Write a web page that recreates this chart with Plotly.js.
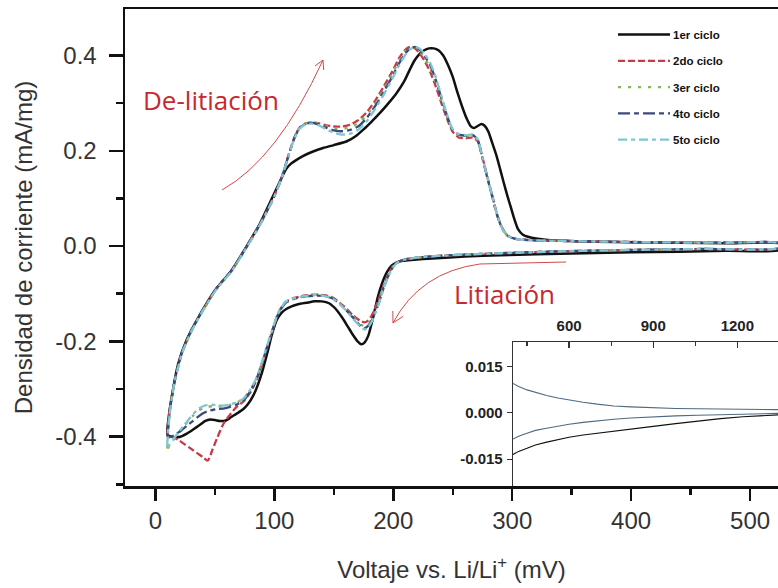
<!DOCTYPE html>
<html><head><meta charset="utf-8">
<script src="https://cdn.plot.ly/plotly-3.0.1.min.js"></script>
<style>html,body{margin:0;padding:0;background:#fff}#chart{width:778px;height:588px}</style>
</head><body><div id="chart"></div>
<script>
// ---------------- DATA ----------------
const cycleNames = ['1er ciclo', '2do ciclo', '3er ciclo', '4to ciclo', '5to ciclo'];

// cycle 1 (black)
const vAnodic1 = [10, 11, 15, 19, 26, 36, 50, 64, 78, 88, 96, 104, 110, 114, 118, 124, 132, 141, 150, 161, 168, 175, 182, 189, 196, 203, 209, 214, 218, 222, 226, 230, 234, 238, 242, 246, 250, 254, 258, 262, 265, 268, 271, 274, 277, 280, 283, 287, 290, 293, 296, 299, 302, 305, 309, 314, 320, 330, 345, 370, 400, 440, 480, 525];
const iAnodic1 = [-0.396, -0.362, -0.298, -0.248, -0.198, -0.150, -0.093, -0.051, 0.005, 0.048, 0.090, 0.132, 0.162, 0.173, 0.180, 0.189, 0.198, 0.206, 0.212, 0.220, 0.230, 0.245, 0.262, 0.280, 0.300, 0.322, 0.345, 0.371, 0.390, 0.403, 0.411, 0.415, 0.415, 0.411, 0.400, 0.380, 0.355, 0.322, 0.292, 0.266, 0.252, 0.248, 0.252, 0.256, 0.252, 0.240, 0.218, 0.188, 0.160, 0.132, 0.105, 0.080, 0.055, 0.035, 0.024, 0.019, 0.016, 0.013, 0.011, 0.009, 0.008, 0.007, 0.006, 0.005];
const vCathodic1 = [525, 480, 440, 400, 360, 320, 290, 260, 240, 225, 215, 208, 203, 199, 195, 191, 187, 183, 179, 176, 173, 170, 166, 162, 157, 152, 146, 140, 134, 127, 120, 114, 110, 106, 102, 98, 94, 90, 86, 82, 78, 74, 70, 66, 62, 58, 54, 50, 46, 42, 38, 34, 30, 26, 21, 16, 12, 10];
const iCathodic1 = [-0.008, -0.010, -0.012, -0.013, -0.015, -0.017, -0.019, -0.022, -0.025, -0.027, -0.029, -0.031, -0.034, -0.040, -0.053, -0.075, -0.107, -0.150, -0.188, -0.202, -0.206, -0.200, -0.186, -0.170, -0.150, -0.133, -0.120, -0.116, -0.116, -0.119, -0.122, -0.127, -0.132, -0.140, -0.155, -0.185, -0.225, -0.262, -0.292, -0.315, -0.331, -0.342, -0.349, -0.355, -0.362, -0.367, -0.367, -0.365, -0.364, -0.367, -0.374, -0.381, -0.388, -0.394, -0.400, -0.401, -0.399, -0.396];

// cycles 2-5 share voltage grids
const vAnodic = [10, 12, 16, 22, 30, 40, 52, 64, 78, 90, 100, 107, 112, 117, 121, 126, 131, 137, 143, 150, 157, 164, 171, 178, 185, 192, 199, 205, 210, 214, 218, 222, 226, 231, 236, 241, 246, 250, 255, 261, 267, 271, 275, 279, 283, 287, 291, 296, 303, 320, 360, 420, 480, 525];
const iAnodic2 = [-0.396, -0.345, -0.285, -0.226, -0.179, -0.134, -0.087, -0.052, 0.004, 0.056, 0.106, 0.151, 0.192, 0.229, 0.248, 0.257, 0.259, 0.258, 0.254, 0.251, 0.251, 0.255, 0.265, 0.282, 0.306, 0.335, 0.366, 0.395, 0.412, 0.418, 0.415, 0.405, 0.390, 0.366, 0.333, 0.296, 0.262, 0.240, 0.228, 0.226, 0.228, 0.220, 0.186, 0.146, 0.108, 0.069, 0.041, 0.022, 0.015, 0.012, 0.010, 0.008, 0.007, 0.006];
const iAnodic3 = [-0.425, -0.350, -0.286, -0.227, -0.180, -0.135, -0.088, -0.053, 0.003, 0.054, 0.104, 0.149, 0.190, 0.227, 0.247, 0.257, 0.260, 0.257, 0.252, 0.247, 0.246, 0.250, 0.259, 0.276, 0.300, 0.329, 0.360, 0.390, 0.409, 0.417, 0.417, 0.410, 0.396, 0.374, 0.342, 0.302, 0.266, 0.242, 0.233, 0.231, 0.232, 0.222, 0.185, 0.145, 0.107, 0.068, 0.040, 0.022, 0.015, 0.012, 0.010, 0.008, 0.007, 0.006];
const iAnodic4 = [-0.400, -0.346, -0.285, -0.225, -0.178, -0.133, -0.086, -0.051, 0.004, 0.055, 0.105, 0.150, 0.191, 0.228, 0.247, 0.256, 0.259, 0.255, 0.249, 0.243, 0.241, 0.244, 0.252, 0.270, 0.295, 0.324, 0.355, 0.384, 0.404, 0.415, 0.418, 0.413, 0.400, 0.380, 0.347, 0.306, 0.268, 0.243, 0.234, 0.232, 0.233, 0.223, 0.184, 0.144, 0.106, 0.067, 0.040, 0.022, 0.015, 0.012, 0.010, 0.008, 0.007, 0.006];
const iAnodic5 = [-0.425, -0.352, -0.287, -0.228, -0.180, -0.135, -0.088, -0.053, 0.003, 0.054, 0.104, 0.149, 0.190, 0.227, 0.246, 0.255, 0.257, 0.254, 0.246, 0.238, 0.234, 0.236, 0.245, 0.263, 0.289, 0.318, 0.350, 0.380, 0.401, 0.413, 0.418, 0.415, 0.404, 0.385, 0.352, 0.310, 0.270, 0.245, 0.235, 0.233, 0.234, 0.224, 0.185, 0.145, 0.107, 0.068, 0.040, 0.022, 0.015, 0.012, 0.010, 0.008, 0.007, 0.006];

const vCathodic = [525, 460, 400, 340, 290, 250, 225, 210, 204, 200, 196, 192, 188, 185, 182, 179, 176, 173, 170, 166, 161, 155, 149, 142, 135, 128, 121, 115, 110, 106, 102, 98, 94, 90, 85, 80, 74, 68, 62, 57, 52, 48, 44, 40, 36, 32, 28, 24, 20, 16, 12, 10];
const iCathodic2 = [-0.004, -0.006, -0.008, -0.011, -0.015, -0.019, -0.023, -0.028, -0.033, -0.041, -0.058, -0.082, -0.110, -0.128, -0.145, -0.156, -0.160, -0.158, -0.153, -0.145, -0.132, -0.119, -0.108, -0.103, -0.102, -0.103, -0.106, -0.110, -0.116, -0.128, -0.149, -0.180, -0.212, -0.245, -0.281, -0.306, -0.326, -0.338, -0.356, -0.374, -0.402, -0.427, -0.450, -0.443, -0.436, -0.429, -0.422, -0.415, -0.408, -0.402, -0.397, -0.396];
const iCathodic3 = [-0.004, -0.006, -0.008, -0.011, -0.015, -0.019, -0.023, -0.028, -0.034, -0.043, -0.061, -0.086, -0.116, -0.135, -0.152, -0.164, -0.168, -0.165, -0.158, -0.148, -0.134, -0.120, -0.109, -0.104, -0.102, -0.103, -0.106, -0.110, -0.116, -0.128, -0.148, -0.178, -0.209, -0.241, -0.277, -0.301, -0.320, -0.329, -0.334, -0.336, -0.336, -0.336, -0.337, -0.340, -0.346, -0.355, -0.366, -0.378, -0.391, -0.404, -0.418, -0.427];
const iCathodic4 = [-0.004, -0.006, -0.008, -0.011, -0.015, -0.019, -0.023, -0.028, -0.034, -0.043, -0.061, -0.087, -0.118, -0.138, -0.155, -0.167, -0.172, -0.169, -0.161, -0.150, -0.136, -0.121, -0.110, -0.105, -0.104, -0.105, -0.108, -0.112, -0.118, -0.130, -0.150, -0.180, -0.211, -0.243, -0.279, -0.304, -0.324, -0.333, -0.338, -0.341, -0.342, -0.344, -0.346, -0.351, -0.358, -0.366, -0.374, -0.382, -0.390, -0.397, -0.401, -0.402];
const iCathodic5 = [-0.004, -0.006, -0.008, -0.011, -0.015, -0.019, -0.023, -0.028, -0.034, -0.043, -0.062, -0.088, -0.120, -0.140, -0.158, -0.170, -0.175, -0.171, -0.163, -0.152, -0.137, -0.122, -0.110, -0.105, -0.103, -0.104, -0.107, -0.111, -0.116, -0.128, -0.148, -0.178, -0.208, -0.240, -0.276, -0.300, -0.320, -0.328, -0.333, -0.335, -0.334, -0.333, -0.333, -0.336, -0.342, -0.352, -0.364, -0.376, -0.389, -0.402, -0.416, -0.425];

// inset (zoom on 400-1345 mV)
const insetV = [400, 420, 450, 480, 520, 560, 600, 650, 700, 760, 820, 900, 980, 1060, 1140, 1220, 1300, 1345];
const insetUpper = [0.0095, 0.0085, 0.0074, 0.0066, 0.0056, 0.0048, 0.0041, 0.0034, 0.0028, 0.0022, 0.0019, 0.0016, 0.0014, 0.0013, 0.0012, 0.0011, 0.0010, 0.0010];
const insetLower1 = [-0.0135, -0.0125, -0.0115, -0.0104, -0.0095, -0.0086, -0.0079, -0.0072, -0.0066, -0.0060, -0.0053, -0.0044, -0.0035, -0.0026, -0.0019, -0.0013, -0.0009, -0.0007];
const insetLower25 = [-0.0085, -0.0076, -0.0066, -0.0057, -0.0050, -0.0043, -0.0037, -0.0031, -0.0026, -0.0021, -0.0017, -0.0013, -0.0010, -0.0008, -0.0006, -0.0004, -0.0003, -0.0002];

// ticks
const xTickVals = [0, 100, 200, 300, 400, 500];
const xTickText = ['0', '100', '200', '300', '400', '500'];
const yTickVals = [0.4, 0.2, 0.0, -0.2, -0.4];
const yTickText = ['0.4', '0.2', '0.0', '-0.2', '-0.4'];
const insetXTickVals = [600, 900, 1200];
const insetYTickVals = [0.015, 0.0, -0.015];
const insetYTickText = ['0.015', '0.000', '-0.015'];

// ---------------- STYLE ----------------
const colors = ['#111111', '#c83a46', '#86b552', '#3d4a7e', '#7fc6d2'];
const dashes = ['solid', '7px,3px', '3px,7px', '12px,4px,5px,4px', '9px,4px,4px,4px'];
const widths = [2.5, 2.3, 2.4, 2.3, 2.3];

// pixel -> paper helpers for decorations
const L = 125, R = 778, T = 9, B = 486;
const pxX = p => (p - L) / (R - L);
const pxY = p => (B - p) / (B - T);
const P = (x, y) => pxX(x).toFixed(5) + ',' + pxY(y).toFixed(5);
function head(tx, ty, fx, fy, len, ang) {
  const dx = fx - tx, dy = fy - ty, n = Math.hypot(dx, dy);
  const ux = dx / n, uy = dy / n, c = Math.cos(ang), s = Math.sin(ang);
  const a = [tx + len * (ux * c - uy * s), ty + len * (ux * s + uy * c)];
  const b = [tx + len * (ux * c + uy * s), ty + len * (-ux * s + uy * c)];
  return 'M' + P(a[0], a[1]) + ' L' + P(tx, ty) + ' L' + P(b[0], b[1]);
}

const vAn = [vAnodic1, vAnodic, vAnodic, vAnodic, vAnodic];
const iAn = [iAnodic1, iAnodic2, iAnodic3, iAnodic4, iAnodic5];
const vCa = [vCathodic1, vCathodic, vCathodic, vCathodic, vCathodic];
const iCa = [iCathodic1, iCathodic2, iCathodic3, iCathodic4, iCathodic5];

const traces = cycleNames.map((name, k) => ({
  type: 'scatter', mode: 'lines', name: name, legendgroup: 'g' + k,
  x: vAn[k].concat(vCa[k]), y: iAn[k].concat(iCa[k]),
  line: {color: colors[k], width: widths[k], dash: dashes[k], shape: 'spline', smoothing: 0.6},
  xaxis: 'x', yaxis: 'y'
}));

// inset traces
traces.push({type: 'scatter', mode: 'lines', showlegend: false, x: insetV.concat([null], insetV), y: insetUpper.concat([null], insetLower25),
  line: {color: '#4f6a80', width: 1.1}, xaxis: 'x2', yaxis: 'y2'});
traces.push({type: 'scatter', mode: 'lines', showlegend: false, x: insetV, y: insetLower1,
  line: {color: '#111111', width: 1.1}, xaxis: 'x2', yaxis: 'y2'});

const red = '#c8282e';
const arrowColor = '#cf4a4a';
const shapes = [
  {type: 'path', xref: 'paper', yref: 'paper', path: 'M' + P(222, 190) + ' Q' + P(277.5, 159) + ' ' + P(323, 60), line: {color: arrowColor, width: 1}},
  {type: 'path', xref: 'paper', yref: 'paper', path: head(323, 60, 277.5, 159, 10, 0.5), line: {color: arrowColor, width: 1}},
  {type: 'path', xref: 'paper', yref: 'paper', path: 'M' + P(566, 262) + ' L' + P(480, 264) + ' Q' + P(420, 272) + ' ' + P(393, 323), line: {color: arrowColor, width: 1}},
  {type: 'path', xref: 'paper', yref: 'paper', path: head(393, 323, 420, 272, 12, 0.5), line: {color: arrowColor, width: 1}}
];

const SANS = "'Liberation Sans', Arial, Helvetica, sans-serif";
const tickFont = {family: SANS, size: 24, color: '#333'};
const titleFont = {family: SANS, size: 24, color: '#333'};
const insetFont = {family: SANS, size: 15, color: '#222', weight: 'bold'};

const layout = {
  width: 778, height: 588,
  margin: {l: L, r: 0, t: T, b: 588 - B},
  paper_bgcolor: '#fff', plot_bgcolor: 'rgba(0,0,0,0)',
  showlegend: true,
  legend: {x: pxX(613), y: pxY(20), xanchor: 'left', yanchor: 'top', bgcolor: 'rgba(0,0,0,0)',
    borderwidth: 0, tracegroupgap: 7.3, itemwidth: 50,
    font: {family: SANS, size: 11.5, color: '#111', weight: 'bold'}},
  xaxis: {domain: [0, 1], range: [-25.6, 523.5], tickvals: xTickVals, ticktext: xTickText,
    ticks: 'outside', ticklen: 12, tickwidth: 2.5, tickcolor: '#111',
    minor: {dtick: 50, tick0: 0, ticks: 'outside', ticklen: 6, tickwidth: 2.5, tickcolor: '#111'},
    showline: true, linewidth: 2.5, linecolor: '#111', mirror: true,
    showgrid: false, zeroline: false, tickfont: tickFont, ticklabelstandoff: 0,
    title: {text: 'Voltaje vs. Li/Li<sup>+</sup> (mV)', font: titleFont, standoff: 28}},
  yaxis: {domain: [0, 1], range: [-0.5035, 0.4976], tickvals: yTickVals, ticktext: yTickText,
    ticks: 'outside', ticklen: 14, tickwidth: 2.5, tickcolor: '#111',
    minor: {dtick: 0.1, tick0: 0, ticks: 'outside', ticklen: 7, tickwidth: 2.5, tickcolor: '#111'},
    showline: true, linewidth: 2.5, linecolor: '#111',
    showgrid: false, zeroline: false, tickfont: tickFont, ticklabelstandoff: 7,
    title: {text: 'Densidad de corriente (mA/mg)', font: titleFont, standoff: 16}},
  xaxis2: {domain: [pxX(513), 1], anchor: 'y2', side: 'top', range: [400, 1345], tickvals: insetXTickVals,
    ticks: 'inside', ticklen: 6, tickwidth: 1.2, tickcolor: '#333',
    minor: {dtick: 150, tick0: 0, ticks: 'inside', ticklen: 4, tickwidth: 1.2, tickcolor: '#333'},
    showline: true, linewidth: 1.3, linecolor: '#333', showgrid: false, zeroline: false,
    tickfont: insetFont, ticklabelstandoff: 4},
  yaxis2: {domain: [0, pxY(342.3)], anchor: 'x2', range: [-0.0237, 0.0228], tickvals: insetYTickVals, ticktext: insetYTickText,
    ticks: 'outside', ticklen: 5, tickwidth: 1.2, tickcolor: '#333',
    showline: true, linewidth: 1.3, linecolor: '#333', showgrid: false, zeroline: false,
    tickfont: insetFont, ticklabelstandoff: 1},
  shapes: shapes,
  annotations: [
    {text: 'De-litiación', xref: 'paper', yref: 'paper', x: pxX(211), y: pxY(100), xanchor: 'center', yanchor: 'middle',
      showarrow: false, font: {family: "'Open Sans', sans-serif", size: 26, color: red}},
    {text: 'Litiación', xref: 'paper', yref: 'paper', x: pxX(504), y: pxY(294), xanchor: 'center', yanchor: 'middle',
      showarrow: false, font: {family: "'Open Sans', sans-serif", size: 26, color: red}}
  ]
};

Plotly.newPlot('chart', traces, layout, {displayModeBar: false, staticPlot: true}).then(gd => {
  gd.querySelectorAll('.legendlines path').forEach(p => p.setAttribute('d', 'M5,0h52'));
});
</script></body></html>
